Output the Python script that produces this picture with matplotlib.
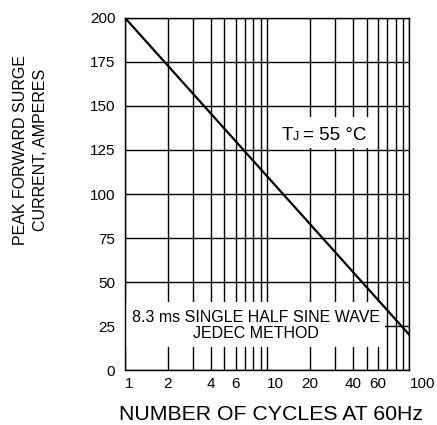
import matplotlib
matplotlib.use("Agg")
import matplotlib.pyplot as plt
from matplotlib.patches import Rectangle
from matplotlib.transforms import offset_copy

plt.rcParams['font.family'] = ['Liberation Sans', 'DejaVu Sans']

# surge curve (straight on the log axis)
cycles = [1, 100]
current = [200, 20]

x_ticks = [1, 2, 4, 6, 10, 20, 40, 60, 100]
x_minor = [3, 5, 7, 8, 9, 30, 50, 70, 80, 90]
y_ticks = [0, 25, 50, 75, 100, 125, 150, 175, 200]

fig = plt.figure(figsize=(4.37, 4.25), dpi=100)
ax = fig.add_axes([0.286, 0.129, 0.651, 0.829])

ax.set_xscale('log')
ax.set_xlim(1, 100)
ax.set_ylim(0, 200)
ax.set_xticks(x_ticks)
ax.set_xticklabels([str(v) for v in x_ticks])
ax.set_xticks(x_minor, minor=True)
ax.set_xticklabels([], minor=True)
ax.set_yticks(y_ticks)
ax.tick_params(axis='both', which='both', length=0, labelsize=11)
ax.tick_params(axis='y', pad=7)
ax.tick_params(axis='x', pad=5)

# 1, 10 and 100 sit to the right of their lines
for lab, v in zip(ax.get_xticklabels(), x_ticks):
    if v in (1, 10, 100):
        lab.set_ha('left')

ax.set_axisbelow(True)
ax.grid(True, which='both', axis='x', color='black', lw=1.0)
ax.grid(True, which='major', axis='y', color='black', lw=1.0)
for s in ax.spines.values():
    s.set_linewidth(1.0)
    s.set_color('black')

# white boxes behind the notes
ax.add_patch(Rectangle((1.0, 13.2), 66.0, 25.6, facecolor='white', edgecolor='none', zorder=1))
ax.add_patch(Rectangle((12.0, 126.0), 44.0, 18.0, facecolor='white', edgecolor='none', zorder=1))

ax.plot(cycles, current, color='black', lw=1.6, zorder=3)

ax.text(8.3, 25.3, "8.3 ms SINGLE HALF SINE WAVE\nJEDEC METHOD", ha='center', va='center',
        fontsize=11.5, linespacing=1.05, zorder=4)

# T with small J, then the rest
tx, ty = 12.6, 130.5
ax.text(tx, ty, "T", fontsize=13.5, ha='left', va='baseline', zorder=4)
ax.text(tx, ty, "J", fontsize=9, ha='left', va='baseline', zorder=4,
        transform=offset_copy(ax.transData, fig=fig, x=8.4, y=0, units='points'))
ax.text(tx, ty, "= 55 °C", fontsize=13.5, ha='left', va='baseline', zorder=4,
        transform=offset_copy(ax.transData, fig=fig, x=15.8, y=0, units='points'))

fig.text(0.070, 0.647, "PEAK FORWARD SURGE\nCURRENT, AMPERES", rotation=90, ha='center',
         va='center', fontsize=11.5, multialignment='center', linespacing=1.4)
fig.text(0.621, 0.024, "NUMBER OF CYCLES AT 60Hz", ha='center', va='center', fontsize=15.3)

fig.savefig("out.png", dpi=100)
